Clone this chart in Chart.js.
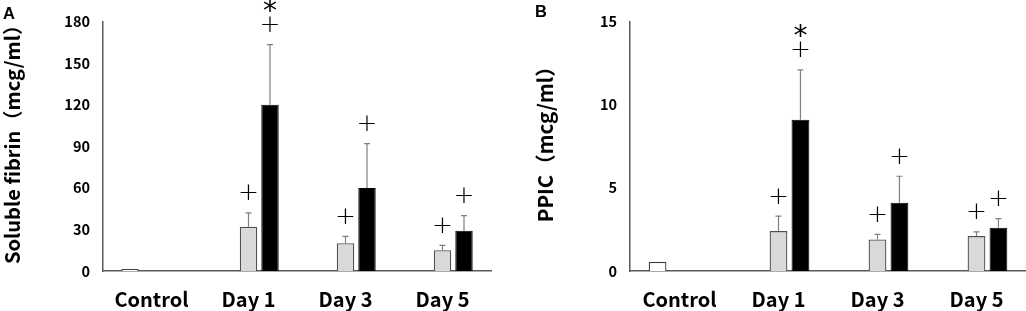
<!DOCTYPE html>
<html>
<head>
<meta charset="utf-8">
<script src="https://cdn.jsdelivr.net/npm/chart.js@4/dist/chart.umd.min.js"></script>
<style>
  html, body { margin:0; padding:0; background:#fff; }
  #wrap { position:relative; width:1026px; height:311px; overflow:hidden; }
  .panel { position:absolute; top:0; height:311px; }
  .letter { position:absolute; line-height:16px; font-family:"Liberation Sans", Arial, sans-serif; font-weight:bold; font-size:16.5px; color:#000; }
</style>
</head>
<body>
<div id="wrap">
  <div class="panel" style="left:0;width:500px;"><canvas id="cA" width="500" height="311"></canvas></div>
  <div class="panel" style="left:500px;width:526px;"><canvas id="cB" width="526" height="311"></canvas></div>
  <div class="letter" style="left:3px;top:5px;">A</div>
  <div class="letter" style="left:535px;top:3px;">B</div>
</div>
<script>
// ---- data ----
const categories = ['Control', 'Day 1', 'Day 3', 'Day 5'];

// Panel A: Soluble fibrin (mcg/ml)
const fibrinControl = [1.5, null, null, null];
const fibrinGray    = [null, 32, 20, 15];
const fibrinBlack   = [null, 120, 60, 29];
const fibrinGraySD  = [null, 10, 5, 3.5];
const fibrinBlackSD = [null, 43.5, 32, 11];
const fibrinGrayMarks  = [[], ['+'], ['+'], ['+']];
const fibrinBlackMarks = [[], ['+', '*'], ['+'], ['+']];
const fibrinTicks = { max: 180, step: 30 };

// Panel B: PPIC (mcg/ml)
const ppicControl = [0.55, null, null, null];
const ppicGray    = [null, 2.4, 1.9, 2.1];
const ppicBlack   = [null, 9.1, 4.1, 2.6];
const ppicGraySD  = [null, 0.9, 0.3, 0.25];
const ppicBlackSD = [null, 3.0, 1.6, 0.55];
const ppicGrayMarks  = [[], ['+'], ['+'], ['+']];
const ppicBlackMarks = [[], ['+', '*'], ['+'], ['+']];
const ppicTicks = { max: 15, step: 5 };

const FONT = '"Noto Sans CJK JP", "Noto Sans", sans-serif';

const errorPlugin = {
  id: 'errorMarks',
  afterDatasetsDraw(chart) {
    const ctx = chart.ctx;
    const y = chart.scales.y;
    chart.data.datasets.forEach((ds, di) => {
      const meta = chart.getDatasetMeta(di);
      ds.data.forEach((v, i) => {
        if (v == null) return;
        const bar = meta.data[i];
        const sd = ds.sd ? ds.sd[i] : null;
        let topPx = y.getPixelForValue(v);
        if (sd != null) {
          const ePx = y.getPixelForValue(v + sd);
          ctx.save();
          ctx.strokeStyle = '#808080';
          ctx.lineWidth = 1.2;
          ctx.beginPath();
          ctx.moveTo(bar.x, topPx);
          ctx.lineTo(bar.x, ePx);
          ctx.moveTo(bar.x - 3, ePx);
          ctx.lineTo(bar.x + 3, ePx);
          ctx.stroke();
          ctx.restore();
          topPx = ePx;
        }
        const marks = ds.marks ? ds.marks[i] : [];
        let cy = topPx - 20;
        marks.forEach(m => {
          ctx.save();
          ctx.fillStyle = '#000';
          ctx.textAlign = 'center';
          ctx.textBaseline = 'middle';
          if (m === '+') {
            ctx.font = '300 25px "DejaVu Sans", sans-serif';
            ctx.fillText('+', bar.x, cy + 1);
          } else {
            ctx.font = '28px "DejaVu Sans", sans-serif';
            ctx.fillText('*', bar.x, cy + 7);
          }
          ctx.restore();
          cy -= 19;
        });
      });
    });
  }
};

// y-axis title drawn rotated, ink centred at a given point
const yTitlePlugin = {
  id: 'yTitle',
  afterDraw(chart, args, opts) {
    const ctx = chart.ctx;
    ctx.save();
    ctx.font = 'bold ' + opts.size + 'px ' + FONT;
    ctx.fillStyle = '#000';
    ctx.textAlign = 'left';
    ctx.textBaseline = 'middle';
    const m = ctx.measureText(opts.text);
    const x0 = -(m.actualBoundingBoxRight - m.actualBoundingBoxLeft) / 2;
    ctx.translate(opts.x, opts.y);
    ctx.rotate(-Math.PI / 2);
    ctx.fillText(opts.text, x0, 0);
    ctx.restore();
  }
};

function makeChart(id, title, control, gray, black, graySD, blackSD, grayMarks, blackMarks, ticks, yWidth, tickPad, rightPad, titleX, titleY, titleSize) {
  return new Chart(document.getElementById(id), {
    type: 'bar',
    data: {
      labels: categories,
      datasets: [
        { data: control, backgroundColor: '#ffffff', borderColor: '#404040', borderWidth: 1.3 },
        { data: gray, backgroundColor: '#d9d9d9', borderColor: '#505050', borderWidth: 1.3, sd: graySD, marks: grayMarks },
        { data: black, backgroundColor: '#000000', borderColor: '#000000', borderWidth: 1, sd: blackSD, marks: blackMarks }
      ]
    },
    options: {
      responsive: false,
      animation: false,
      events: [],
      categoryPercentage: 0.665,
      barPercentage: 0.81,
      layout: { padding: { top: 18, right: rightPad, left: 0, bottom: 0 } },
      plugins: {
        legend: { display: false },
        tooltip: { enabled: false },
        yTitle: { text: title, x: titleX, y: titleY, size: titleSize }
      },
      scales: {
        x: {
          grid: { display: false, drawTicks: false },
          border: { display: true, color: '#595959', width: 1.5 },
          ticks: { color: '#000', padding: 16, font: { family: FONT, size: 20, weight: 'bold' } },
          afterFit(s) { s.height = 40; }
        },
        y: {
          min: 0, max: ticks.max,
          grid: { display: false, drawTicks: false },
          border: { display: true, color: '#595959', width: 1.5 },
          ticks: { stepSize: ticks.step, color: '#000', padding: tickPad, font: { family: FONT, size: 14.5, weight: '600' } },
          afterFit(s) { s.width = yWidth; }
        }
      }
    },
    plugins: [errorPlugin, yTitlePlugin]
  });
}

makeChart('cA', 'Soluble fibrin（mcg/ml）', fibrinControl, fibrinGray, fibrinBlack, fibrinGraySD, fibrinBlackSD, fibrinGrayMarks, fibrinBlackMarks, fibrinTicks, 103, 13, 9, 12, 146, 20);
makeChart('cB', 'PPIC（mcg/ml）', ppicControl, ppicGray, ppicBlack, ppicGraySD, ppicBlackSD, ppicGrayMarks, ppicBlackMarks, ppicTicks, 130, 13, 0, 45, 145.5, 20.5);
</script>
</body>
</html>
